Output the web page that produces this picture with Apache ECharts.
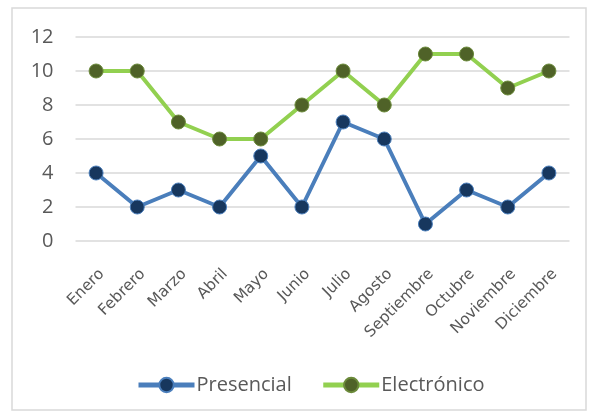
<!DOCTYPE html>
<html><head><meta charset="utf-8">
<script src="https://cdn.jsdelivr.net/npm/echarts@6/dist/echarts.min.js"></script>
<style>html,body{margin:0;padding:0;background:#fff}#c{width:590px;height:414px}</style>
</head><body><div id="c"></div>
<script>
const categories = ['Enero','Febrero','Marzo','Abril','Mayo','Junio','Julio','Agosto','Septiembre','Octubre','Noviembre','Diciembre'];
const presencial = [4,2,3,2,5,2,7,6,1,3,2,4];
const electronico = [10,10,7,6,6,8,10,8,11,11,9,10];
const yTicks = [0,2,4,6,8,10,12];

const chart = echarts.init(document.getElementById('c'));
chart.setOption({
  animation: false,
  graphic: [{type:'rect', shape:{x:12,y:8,width:574,height:402}, style:{fill:'none', stroke:'#d9d9d9', lineWidth:1.5}}],
  grid: {left: 75.5, right: 20.5, top: 37, bottom: 173},
  legend: {
    top: 370, left: 131, itemGap: 29, itemWidth: 56, itemHeight: 18,
    lineStyle: {width: 5},
    textStyle: {fontFamily: 'Open Sans', fontSize: 20, color: '#595959', padding:[0,0,0,-3]},
    data: ['Presencial','Electrónico']
  },
  xAxis: {
    type: 'category', data: categories, boundaryGap: true,
    axisLine: {show: false}, axisTick: {show: false},
    axisLabel: {rotate: 45, fontFamily: 'DejaVu Sans', fontSize: 15.5, color: '#595959', margin: 25, interval: 0, verticalAlign: 'top'}
  },
  yAxis: {
    type: 'value', min: yTicks[0], max: yTicks[yTicks.length-1], interval: 2,
    axisLine: {show: false}, axisTick: {show: false},
    axisLabel: {fontFamily: 'Open Sans', fontSize: 20, color: '#595959', margin: 22},
    splitLine: {lineStyle: {color: '#d9d9d9', width: 1.5}}
  },
  series: [
    {name: 'Presencial', type: 'line', data: presencial, symbol: 'circle', symbolSize: 14,
     lineStyle: {color: '#4a7ebb', width: 4}, itemStyle: {color: '#17375e', borderColor: '#4a7ebb', borderWidth: 1}},
    {name: 'Electrónico', type: 'line', data: electronico, symbol: 'circle', symbolSize: 14,
     lineStyle: {color: '#92d050', width: 4}, itemStyle: {color: '#4f6228', borderColor: '#6b8a3a', borderWidth: 1}}
  ]
});
</script></body></html>
